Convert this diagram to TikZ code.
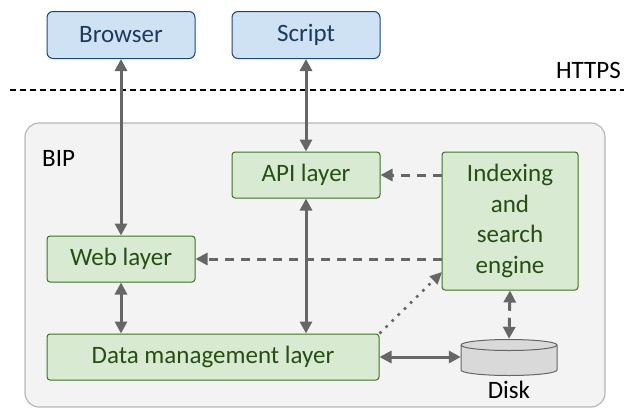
\documentclass[tikz,border=0pt]{standalone}
\usepackage{fontspec}
\setmainfont{Carlito}
\usetikzlibrary{arrows.meta,calc}
\definecolor{bluefill}{HTML}{CFE2F3}
\definecolor{blueline}{HTML}{1C4587}
\definecolor{bluetext}{HTML}{1C3A5E}
\definecolor{greenfill}{HTML}{D9EAD3}
\definecolor{greenline}{HTML}{38761D}
\definecolor{greentext}{HTML}{274E13}
\definecolor{conn}{HTML}{666666}
\definecolor{boxfill}{HTML}{F3F3F3}
\definecolor{boxline}{HTML}{B7B7B7}
\definecolor{diskfill}{HTML}{D9D9D9}
\tikzset{
  client/.style={draw=blueline, fill=bluefill, text=bluetext, rounded corners=6pt, line width=1pt,
    minimum width=148pt, minimum height=47pt, inner sep=0pt, font=\fontsize{25}{30}\selectfont},
  layer/.style={draw=greenline, fill=greenfill, text=greentext, rounded corners=3pt, line width=1pt,
    minimum height=46pt, inner sep=0pt, font=\fontsize{25}{30}\selectfont, align=center},
  lbl/.style={inner sep=0pt, font=\fontsize{25}{30}\selectfont, text=black},
  tip/.style={-{Triangle[length=12pt,width=12pt]}},
  bitip/.style={{Triangle[length=12pt,width=12pt]}-{Triangle[length=12pt,width=12pt]}},
  conline/.style={draw=conn, line width=3pt, color=conn},
  dashline/.style={conline, dash pattern=on 9pt off 7pt},
  dotline/.style={draw=conn, color=conn, line width=2.6pt, dash pattern=on 2.6pt off 6pt}
}
\begin{document}
\begin{tikzpicture}[x=1pt,y=-1pt]
\useasboundingbox (0,0) rectangle (624,408);
% HTTPS boundary
\draw[line width=1.5pt, dash pattern=on 6pt off 4pt] (10,90) -- (624,90);
\node[lbl, anchor=east] (https) at (621,70) {HTTPS};
% container
\draw[draw=boxline, fill=boxfill, line width=1.2pt, rounded corners=14pt] (25,123) rectangle (605,407);
\node[lbl, anchor=west] (bip) at (42,158) {BIP};
% nodes
\node[client] (browser) at (121,35) {Browser};
\node[client] (script) at (306,35) {Script};
\node[layer, minimum width=148pt] (api) at (306,175) {API layer};
\node[layer, minimum width=136pt, minimum height=138pt, font=\fontsize{25}{30.5}\selectfont] (index) at (510,221) {Indexing\\and\\search\\engine};
\node[layer, minimum width=148pt] (web) at (121,259) {Web layer};
\node[layer, minimum width=332pt] (data) at (213,357) {Data management layer};
% disk (cylinder drawn by hand, node for anchoring)
\draw[draw=conn, fill=diskfill, line width=1pt]
  (461,345) -- (461,370) arc[start angle=180, end angle=360, x radius=48, y radius=-5.5] -- (557,345)
  arc[start angle=0, end angle=180, x radius=48, y radius=-5.5] -- cycle;
\draw[draw=conn, line width=1pt] (461,345) arc[start angle=180, end angle=360, x radius=48, y radius=-5.5];
\node[minimum width=96pt, minimum height=36pt, inner sep=0pt] (disk) at (509,357) {};
\node[lbl] (disklbl) at (509,390) {Disk};
\coordinate (dotend) at (442,272);
% connectors
\draw[conline, bitip] (browser.south) -- (web.north);
\draw[conline, bitip] (script.south) -- (api.north);
\draw[conline, bitip] (api.south) -- (data.north -| api.south);
\draw[conline, bitip] (web.south) -- (data.north -| web.south);
\draw[dashline, tip] (index.west |- api.east) -- (api.east);
\draw[dashline, tip] (index.west |- web.east) -- (web.east);
\draw[conline, bitip] (data.east) -- (disk.west |- data.east);
\draw[dashline, bitip] (index.south) -- (disk.north);
\draw[dotline, -{Triangle[length=12pt,width=11pt]}] (data.north east) -- (dotend);
\end{tikzpicture}
\end{document}
